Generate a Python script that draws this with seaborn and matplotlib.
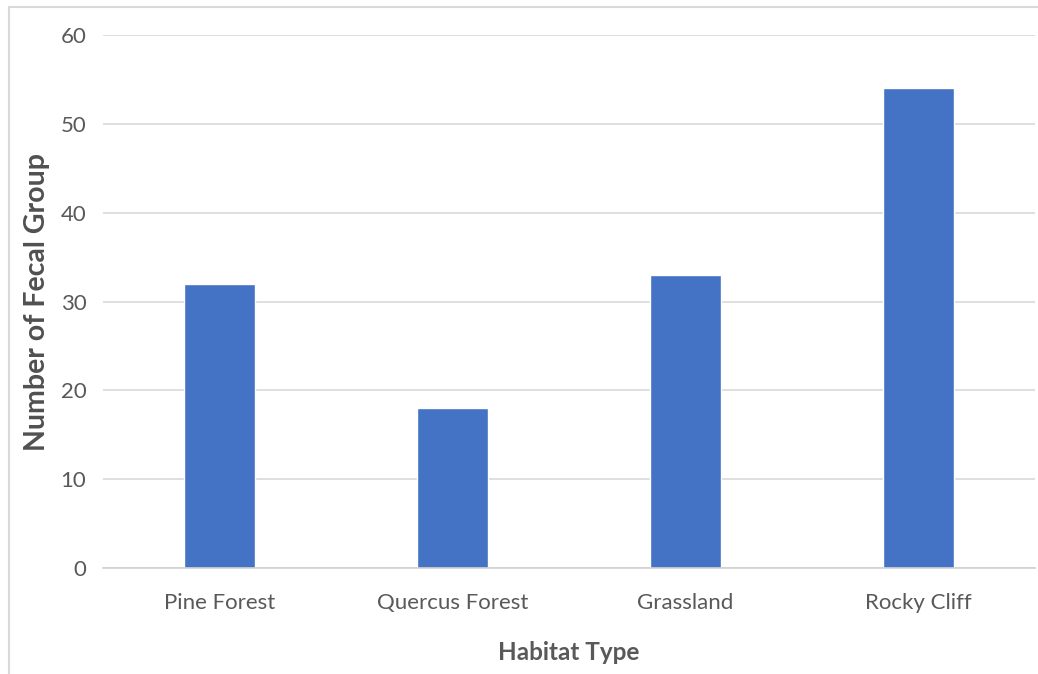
import matplotlib
matplotlib.use("Agg")
import matplotlib.pyplot as plt
import matplotlib.patches as mpatches
import seaborn as sns
import pandas as pd

habitats = ["Pine Forest", "Quercus Forest", "Grassland", "Rocky Cliff"]
fecal_groups = [32, 18, 33, 54]
y_ticks = [0, 10, 20, 30, 40, 50, 60]

sns.set_theme(style="white")
plt.rcParams["font.family"] = ["Lato", "DejaVu Sans"]

df = pd.DataFrame({"Habitat Type": habitats, "Number of Fecal Group": fecal_groups})

W, H = 1038, 674
fig = plt.figure(figsize=(W / 100, H / 100), dpi=100)
ax = fig.add_axes([103 / W, 1 - 568 / H, (1035 - 103) / W, (568 - 35) / H])

sns.barplot(data=df, x="Habitat Type", y="Number of Fecal Group",
            color="#4472C4", saturation=1, width=0.305, ax=ax)

ax.set_ylim(0, 60)
ax.set_yticks(y_ticks)
ax.set_xlim(-0.5, len(habitats) - 0.5)
ax.yaxis.grid(True, color="#D9D9D9", linewidth=1.2)
ax.set_axisbelow(True)
for side in ["top", "right", "left"]:
    ax.spines[side].set_visible(False)
ax.spines["bottom"].set_color("#D0D0D0")
ax.spines["bottom"].set_linewidth(1.2)

ax.tick_params(axis="both", length=0, labelsize=16, labelcolor="#595959")
ax.tick_params(axis="y", pad=12)
ax.tick_params(axis="x", pad=18)

ax.set_xlabel("Habitat Type", fontsize=17.5, fontweight="bold", color="#595959")
ax.set_ylabel("Number of Fecal Group", fontsize=20.5, fontweight="bold", color="#505050")
ax.xaxis.set_label_coords(0.5, (568 - 652) / 533)
ax.xaxis.label.set_va("center")
ax.yaxis.set_label_coords((37 - 103) / 932, (568 - 302) / 533)
ax.yaxis.label.set_va("center")

# outer chart border
fig.patches.append(mpatches.Rectangle((9 / W, -0.01), 1.02 - 9 / W, 1 - 7 / H + 0.01,
                                      transform=fig.transFigure, fill=False,
                                      edgecolor="#D9D9D9", linewidth=1.5))

fig.savefig("out.png", dpi=100)
